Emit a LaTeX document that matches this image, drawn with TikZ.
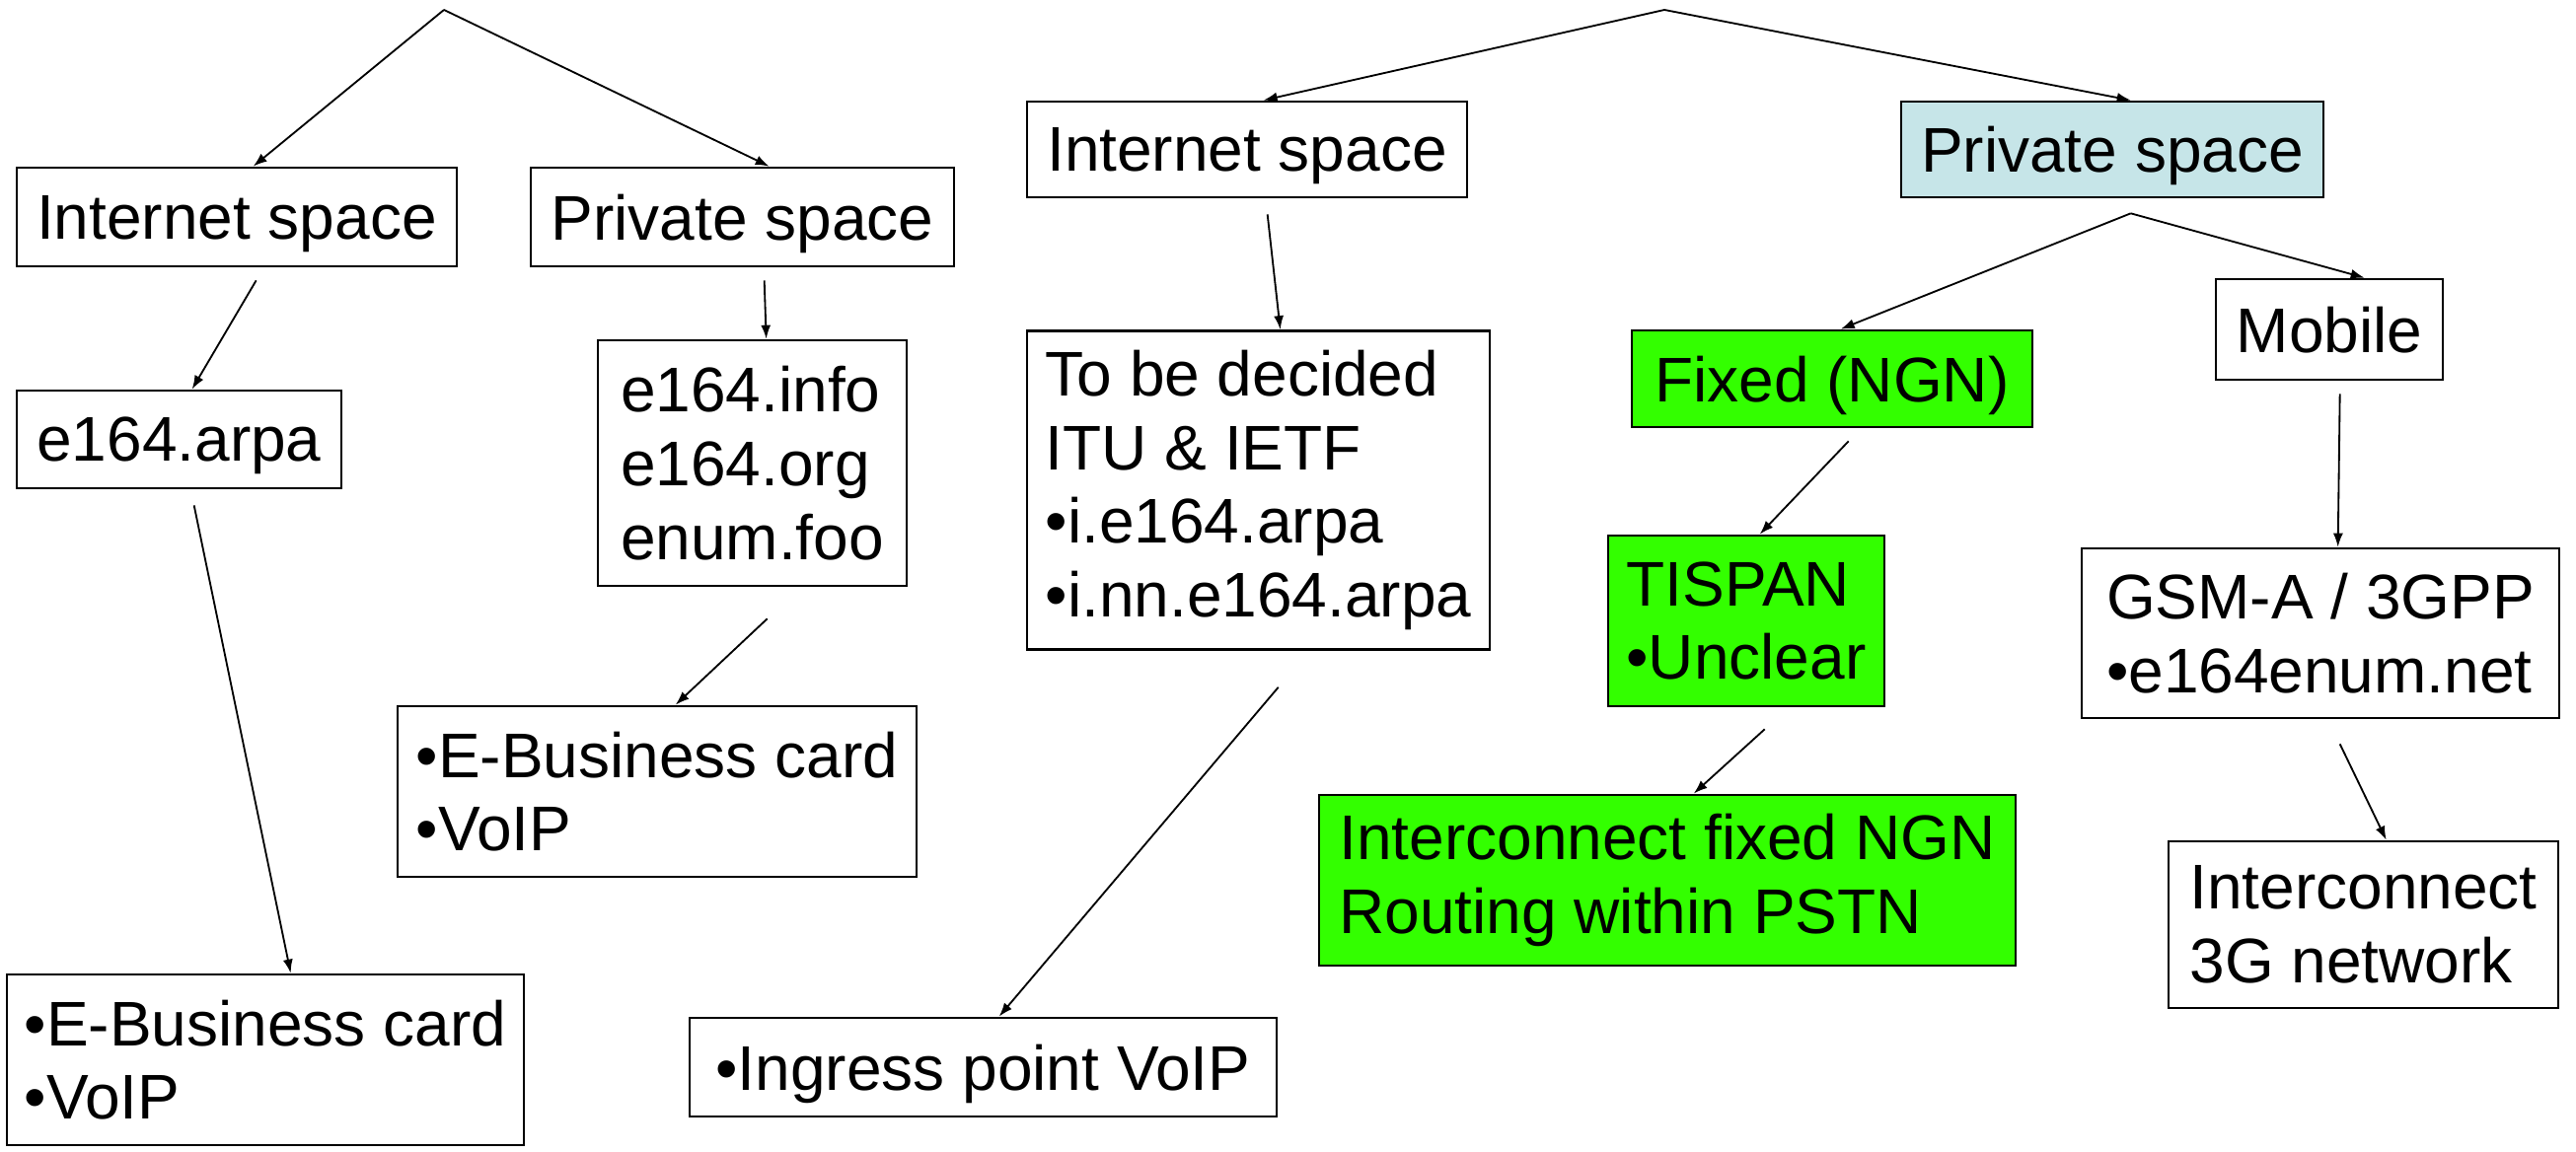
\documentclass[tikz,border=0pt]{standalone}
\usepackage{fontspec}
\setmainfont{Liberation Sans}
\usetikzlibrary{arrows.meta,calc}
\definecolor{ngngreen}{RGB}{51,255,0}
\definecolor{privblue}{RGB}{198,229,232}
\begin{document}
\begin{tikzpicture}[x=0.3pt,y=-0.3pt,
  box/.style={draw=black,line width=0.8pt,rectangle,inner sep=0pt,align=left,
    font=\fontsize{19.2pt}{22.4pt}\selectfont},
  oneline/.style={text depth=0pt},
  arr/.style={line width=0.55pt,-{Latex[length=4.2pt,width=3pt]}}]
\useasboundingbox (0,0) rectangle (2611,1168);

% left tree
\node[box,oneline,minimum width=446*0.3pt,minimum height=100*0.3pt] (inetL) at (240,220) {Internet space};
\node[box,oneline,minimum width=429*0.3pt,minimum height=100*0.3pt] (privL) at (752.5,220) {Private space};
\node[box,oneline,minimum width=329*0.3pt,minimum height=99*0.3pt] (arpa) at (181.5,445.5) {e164.arpa};
\node[box,minimum width=313*0.3pt,minimum height=249*0.3pt] (infos) at (762.5,469.5) {e164.info\\e164.org\\enum.foo};
\node[box,minimum width=526*0.3pt,minimum height=173*0.3pt] (ebizM) at (666,802.5) {•E-Business card\\•VoIP};
\node[box,minimum width=524*0.3pt,minimum height=173*0.3pt] (ebizL) at (269,1074.5) {•E-Business card\\•VoIP};

% right tree
\node[box,oneline,minimum width=446*0.3pt,minimum height=97*0.3pt] (inetR) at (1264,151.5) {Internet space};
\node[box,oneline,fill=privblue,minimum width=428*0.3pt,minimum height=97*0.3pt] (privR) at (2141,151.5) {Private space};
\node[box,minimum width=469*0.3pt,minimum height=323*0.3pt] (tbd) at (1275.5,497) {To be decided\\ITU \& IETF\\•i.e164.arpa\\•i.nn.e164.arpa};
\node[box,oneline,minimum width=595*0.3pt,minimum height=100*0.3pt] (ingress) at (996.5,1082) {•Ingress point VoIP};
\node[box,oneline,fill=ngngreen,minimum width=406*0.3pt,minimum height=98*0.3pt] (fixed) at (1857,384) {Fixed (NGN)};
\node[box,oneline,minimum width=230*0.3pt,minimum height=102*0.3pt] (mobile) at (2361,334) {Mobile};
\node[box,fill=ngngreen,minimum width=280*0.3pt,minimum height=173*0.3pt] (tispan) at (1770,629.5) {TISPAN\\•Unclear};
\node[box,minimum width=484*0.3pt,minimum height=172*0.3pt] (gsm) at (2352,642) {GSM-A / 3GPP\\•e164enum.net};
\node[box,fill=ngngreen,minimum width=706*0.3pt,minimum height=173*0.3pt] (icfixed) at (1690,892.5) {Interconnect fixed NGN\\Routing within PSTN};
\node[box,minimum width=395*0.3pt,minimum height=169*0.3pt] (ic3g) at (2395.5,937.5) {Interconnect\\3G network};

% branch points
\coordinate (apexL) at (450,10);
\coordinate (apexR) at (1687,10);
\coordinate (apexP) at ($(privR.south west)+(234,15)$);

% left connectors
\draw[arr] (apexL) -- ($(inetL.north west)+(241,0)$);
\draw[arr] (apexL) -- ($(privL.north west)+(243,0)$);
\draw[arr] ($(inetL.south west)+(244,13)$) -- ($(arpa.north west)+(179,0)$);
\draw[arr] ($(privL.south west)+(238,13)$) -- ($(infos.north west)+(172,0)$);
\draw[arr] ($(arpa.south west)+(181,16)$) -- ($(ebizL.north west)+(289,0)$);
\draw[arr] ($(infos.south west)+(173,32)$) -- ($(ebizM.north west)+(283,0)$);

% right connectors
\draw[arr] (apexR) -- ($(inetR.north west)+(241,0)$);
\draw[arr] (apexR) -- ($(privR.north west)+(234,0)$);
\draw[arr] ($(inetR.south west)+(245,16)$) -- ($(tbd.north west)+(258,0)$);
\draw[arr] ($(tbd.south west)+(256,37)$) -- ($(ingress.north west)+(315,0)$);
\draw[arr] (apexP) -- ($(fixed.north west)+(213,0)$);
\draw[arr] (apexP) -- ($(mobile.north west)+(152,0)$);
\draw[arr] ($(fixed.south west)+(221,13)$) -- ($(tispan.north west)+(155,0)$);
\draw[arr] ($(tispan.south west)+(160,22)$) -- ($(icfixed.north west)+(381,0)$);
\draw[arr] ($(mobile.south west)+(127,13)$) -- ($(gsm.north west)+(261,0)$);
\draw[arr] ($(gsm.south west)+(263,25)$) -- ($(ic3g.north west)+(222,0)$);
\end{tikzpicture}
\end{document}
